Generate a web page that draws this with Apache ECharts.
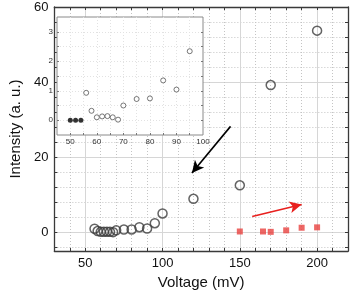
<!DOCTYPE html>
<html>
<head>
<meta charset="utf-8">
<script src="https://cdn.jsdelivr.net/npm/echarts@6/dist/echarts.min.js"></script>
<style>html,body{margin:0;padding:0;background:#fff}#c{width:350px;height:295px}</style>
</head>
<body>
<div id="c"></div>
<script>
// Main series: open circles (Voltage mV, Intensity a.u.)
const mainX = [56, 58, 60, 62, 64, 66, 68, 70, 75, 80, 85, 90, 95, 100, 120, 150, 170, 200];
const mainY = [0.93, 0.32, 0.1, 0.13, 0.14, 0.1, 0.02, 0.5, 0.72, 0.74, 1.35, 1.0, 2.4, 5.0, 8.9, 12.5, 39.2, 53.7];
// Red squares
const redX = [150, 165, 170, 180, 190, 200];
const redY = [0.2, 0.2, 0.1, 0.5, 1.2, 1.3];
// Inset: filled points
const fillX = [50, 52, 54];
const fillY = [0, 0, 0];
// Inset: open circles
const insetX = [56, 58, 60, 62, 64, 66, 68, 70, 75, 80, 85, 90, 95];
const insetY = [0.93, 0.32, 0.1, 0.13, 0.14, 0.1, 0.02, 0.5, 0.72, 0.74, 1.35, 1.04, 2.34];
// Arrows [start, end] in data coords
const blackArrow = [[144, 28.2], [119, 15.8]];
const redArrow = [[158, 4.2], [190, 7.4]];
// Tick labels
const xLabels = [50, 100, 150, 200];
const xMinor = [40, 50, 60, 70, 80, 90, 100, 110, 120, 130, 140, 150, 160, 170, 180, 190, 200, 210];
const yLabels = [0, 20, 40, 60];
const yMinor = [-4, 0, 4, 8, 12, 16, 20, 24, 28, 32, 36, 40, 44, 48, 52, 56];
const inXLabels = [50, 60, 70, 80, 90, 100];
const inXTicks = [50, 55, 60, 65, 70, 75, 80, 85, 90, 95];
const inYLabels = [0, 1, 2, 3];
const inYTicks = [0, 0.5, 1, 1.5, 2, 2.5, 3];

const zip = (a, b) => a.map((v, i) => [v, b[i]]);
const frame = '#3a3a3a';
const font = 'Liberation Sans, Arial, sans-serif';

const chart = echarts.init(document.getElementById('c'));
chart.setOption({
  animation: false,
  grid: [
    {left: 42, right: 2, top: 7, bottom: 42},
    {left: 57, top: 17, width: 146, height: 118, show: true, backgroundColor: '#fff', borderColor: '#8a8a8a', borderWidth: 1, z: 3}
  ],
  xAxis: [
    {gridIndex: 0, type: 'value', min: 30, max: 220, position: 'bottom',
      name: 'Voltage (mV)', nameLocation: 'middle', nameGap: 24,
      nameTextStyle: {fontSize: 15, color: '#111', fontFamily: font},
      axisLine: {onZero: false, lineStyle: {color: frame, width: 1.3}},
      axisTick: {inside: true, length: 3, customValues: xMinor, lineStyle: {color: frame}},
      axisLabel: {customValues: xLabels, fontSize: 13, color: '#111', fontFamily: font, margin: 6},
      splitLine: {show: true, lineStyle: {color: '#c4c4c4', type: [1, 2], width: 1}}
    },
    {gridIndex: 0, type: 'value', min: 30, max: 220, position: 'top',
      axisLine: {show: true, onZero: false, lineStyle: {color: frame, width: 1.3}},
      axisTick: {inside: true, length: 3, customValues: xMinor, lineStyle: {color: frame}},
      axisLabel: {show: false},
      splitLine: {show: false}
    },
    {gridIndex: 0, type: 'value', min: 30, max: 220, position: 'top', show: true,
      axisLine: {show: false, onZero: false},
      axisTick: {show: false, customValues: xLabels},
      axisLabel: {show: false},
      splitLine: {show: true, lineStyle: {color: '#d6d6d6', width: 1}}
    },
    {gridIndex: 1, type: 'value', min: 45, max: 100, position: 'bottom', z: 4,
      axisLine: {show: false, onZero: false},
      axisTick: {inside: true, length: 2, customValues: inXTicks, lineStyle: {color: '#777'}},
      axisLabel: {customValues: inXLabels, fontSize: 8, color: '#333', fontFamily: font, margin: 3},
      splitLine: {show: true, lineStyle: {color: '#e2e2e2', type: [1, 2]}}
    }
  ],
  yAxis: [
    {gridIndex: 0, type: 'value', min: -5, max: 60, position: 'left',
      name: 'Intensity (a. u.)', nameLocation: 'middle', nameGap: 24,
      nameTextStyle: {fontSize: 15, color: '#111', fontFamily: font},
      axisLine: {show: true, onZero: false, lineStyle: {color: frame, width: 1.3}},
      axisTick: {inside: true, length: 3, customValues: yMinor, lineStyle: {color: frame}},
      axisLabel: {customValues: yLabels, fontSize: 13, color: '#111', fontFamily: font, margin: 6},
      splitLine: {show: true, lineStyle: {color: '#c4c4c4', type: [1, 2], width: 1}}
    },
    {gridIndex: 0, type: 'value', min: -5, max: 60, position: 'right',
      axisLine: {show: true, onZero: false, lineStyle: {color: frame, width: 1.3}},
      axisTick: {inside: true, length: 3, customValues: yMinor, lineStyle: {color: frame}},
      axisLabel: {show: false},
      splitLine: {show: false}
    },
    {gridIndex: 0, type: 'value', min: -5, max: 60, position: 'right', show: true,
      axisLine: {show: false, onZero: false},
      axisTick: {show: false, customValues: yLabels},
      axisLabel: {show: false},
      splitLine: {show: true, lineStyle: {color: '#d6d6d6', width: 1}}
    },
    {gridIndex: 1, type: 'value', min: -0.5, max: 3.5, position: 'left', z: 4,
      axisLine: {show: false, onZero: false},
      axisTick: {inside: true, length: 2, customValues: inYTicks, lineStyle: {color: '#777'}},
      axisLabel: {customValues: inYLabels, fontSize: 8, color: '#333', fontFamily: font, margin: 4},
      splitLine: {show: true, lineStyle: {color: '#e2e2e2', type: [1, 2]}}
    },
    {gridIndex: 1, type: 'value', min: -0.5, max: 3.5, position: 'right', z: 4,
      axisLine: {show: false, onZero: false},
      axisTick: {inside: true, length: 2, customValues: inYTicks, lineStyle: {color: '#777'}},
      axisLabel: {show: false},
      splitLine: {show: false}
    }
  ],
  series: [
    {type: 'scatter', xAxisIndex: 0, yAxisIndex: 0, data: zip(mainX, mainY), symbol: 'circle', symbolSize: 9,
      itemStyle: {color: 'rgba(255,255,255,0)', borderColor: '#3c3c3c', borderWidth: 1.5}, z: 3},
    {type: 'scatter', xAxisIndex: 0, yAxisIndex: 0, data: zip(redX, redY), symbol: 'rect', symbolSize: 6,
      itemStyle: {color: '#e8413f'}, z: 3},
    {type: 'line', xAxisIndex: 0, yAxisIndex: 0, data: [], silent: true,
      markLine: {silent: true, symbol: ['none', 'arrow'], symbolSize: [9, 12], label: {show: false},
        data: [
          [{coord: blackArrow[0], lineStyle: {color: '#000', width: 1.6, type: 'solid'}, itemStyle: {color: '#000'}}, {coord: blackArrow[1]}],
          [{coord: redArrow[0], lineStyle: {color: '#e8201e', width: 1.6, type: 'solid'}, itemStyle: {color: '#e8201e'}}, {coord: redArrow[1]}]
        ]}
    },
    {type: 'scatter', xAxisIndex: 3, yAxisIndex: 3, data: zip(insetX, insetY), symbol: 'circle', symbolSize: 5,
      itemStyle: {color: '#fff', borderColor: '#555', borderWidth: 1}, z: 6},
    {type: 'scatter', xAxisIndex: 3, yAxisIndex: 3, data: zip(fillX, fillY), symbol: 'circle', symbolSize: 5,
      itemStyle: {color: '#000'}, z: 6}
  ]
});
</script>
</body>
</html>
